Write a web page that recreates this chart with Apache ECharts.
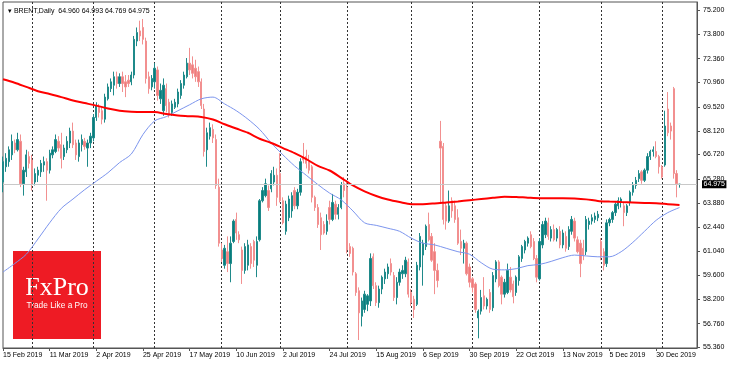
<!DOCTYPE html>
<html><head><meta charset="utf-8">
<script src="https://cdn.jsdelivr.net/npm/echarts@6/dist/echarts.min.js"></script>
<style>html,body{margin:0;padding:0;background:#fff}#c{width:730px;height:365px}</style>
</head><body><div id="c"></div>
<script>
const symbolTitle = 'BRENT,Daily';
const lastQuote = [64.960, 64.993, 64.769, 64.975];
const currentPrice = 64.975;
const yTickLabels = [55.36, 56.76, 58.2, 59.6, 61.04, 62.44, 63.88, 65.28, 66.72, 68.12, 69.52, 70.96, 72.36, 73.8, 75.2];
const xTickLabels = ['15 Feb 2019','11 Mar 2019','2 Apr 2019','25 Apr 2019','17 May 2019','10 Jun 2019','2 Jul 2019','24 Jul 2019','15 Aug 2019','6 Sep 2019','30 Sep 2019','22 Oct 2019','13 Nov 2019','5 Dec 2019','30 Dec 2019'];
const firstDay = '2019-02-15';
const holidays = ['2019-04-19','2019-12-25','2020-01-01'];

// [open, high, low, close]
const feb2019 = [[65.1,66.6,64.5,66.3],[66.0,66.8,65.7,66.5],[66.3,67.2,66.0,67.0],[66.7,67.9,66.4,67.5],[67.4,67.6,66.8,67.0],[67.0,68.0,66.9,67.6],[67.5,67.9,64.8,65.0],[65.0,66.0,64.3,65.8],[65.7,67.0,65.4,66.7],[66.6,66.9,65.9,66.2]];
const mar2019 = [[66.4,66.7,64.6,65.0],[65.1,65.9,64.9,65.6],[65.5,66.0,65.1,65.8],[65.7,66.4,65.4,66.2],[66.1,66.6,65.7,66.3],[66.3,66.5,64.0,65.8],[65.8,67.0,65.6,66.8],[66.7,67.2,66.5,67.0],[66.9,67.9,66.8,67.6],[67.5,67.8,66.9,67.1],[67.3,68.0,65.9,66.5],[66.6,67.3,66.4,67.1],[67.0,67.8,66.8,67.5],[67.4,68.3,67.1,68.1],[68.1,68.6,67.1,67.3],[67.4,67.6,66.4,66.7],[66.6,67.6,66.3,67.4],[67.3,67.9,66.9,67.6],[67.5,67.7,67.0,67.2],[67.1,67.6,66.0,67.4],[67.4,68.0,67.1,67.8]];
const apr2019 = [[67.7,69.1,67.5,68.9],[68.9,69.8,68.7,69.6],[69.5,69.7,68.9,69.2],[69.3,69.5,68.5,68.8],[68.8,70.3,68.6,70.1],[70.0,70.9,69.9,70.7],[70.6,71.2,70.4,71.0],[70.8,71.6,70.2,71.3],[71.3,71.6,70.6,70.9],[70.9,71.5,70.7,71.3],[71.3,71.6,70.4,70.9],[71.0,71.4,70.1,70.7],[71.1,71.4,70.7,70.9],[71.0,71.6,70.8,71.4],[71.4,73.7,71.2,73.5],[73.4,74.2,73.1,73.9],[74.0,74.6,73.4,73.7],[74.2,74.7,73.2,73.5],[73.4,73.6,70.9,71.2],[71.3,71.6,70.3,70.6],[70.7,71.4,70.5,71.2]];
const may2019 = [[71.0,72.1,70.6,71.8],[71.7,71.9,69.9,70.2],[70.0,70.9,69.7,70.5],[69.3,71.2,69.0,70.8],[70.6,70.9,69.2,69.6],[69.8,70.0,68.9,69.1],[69.2,69.9,69.0,69.7],[69.5,70.0,69.4,69.8],[69.7,70.6,69.5,70.4],[70.2,71.1,70.0,70.9],[70.8,71.6,70.6,71.4],[71.3,72.4,71.2,72.1],[72.1,73.0,71.4,71.7],[72.0,72.5,71.2,71.5],[71.8,72.3,71.0,71.3],[71.6,71.9,70.7,71.0],[71.0,71.2,69.4,69.6],[69.4,69.7,66.6,66.9],[67.0,68.3,66.0,68.0],[67.8,68.6,67.6,68.3],[68.2,68.5,67.4,67.7],[67.6,67.9,64.7,64.9],[64.8,65.3,61.3,61.5]];
const jun2019 = [[61.1,61.5,60.4,60.6],[60.2,61.4,60.0,61.2],[61.0,61.9,59.8,60.3],[60.3,61.9,59.2,61.5],[61.6,62.9,61.5,62.8],[62.9,63.3,61.7,62.1],[62.0,62.2,61.5,61.7],[61.1,61.3,59.1,59.9],[59.9,61.5,59.7,61.3],[60.2,61.7,59.9,61.4],[61.3,61.5,60.0,60.3],[61.6,61.7,60.1,60.5],[60.2,61.9,59.5,61.6],[61.7,64.1,61.6,64.0],[64.0,64.8,63.9,64.6],[64.3,65.3,64.2,65.0],[64.6,64.9,63.4,63.6],[64.7,65.8,64.5,65.6],[65.1,66.0,64.9,65.5],[65.5,65.9,63.7,64.2]];
const jul2019 = [[65.6,66.8,63.9,64.0],[64.0,64.2,62.6,62.7],[62.2,64.0,62.0,63.8],[63.0,64.3,62.8,64.1],[63.4,64.5,63.0,64.3],[64.6,64.8,63.5,63.7],[63.7,64.7,63.5,64.5],[64.5,66.5,64.3,66.3],[66.6,67.4,66.2,66.4],[66.6,67.0,65.9,66.2],[66.3,66.7,65.6,65.8],[66.0,66.1,63.9,64.2],[64.2,64.3,63.4,63.6],[63.6,63.8,62.4,62.6],[63.0,63.3,61.1,62.0],[62.6,62.8,62.0,62.1],[62.2,63.2,62.0,62.8],[63.6,64.0,62.6,62.9],[62.9,64.4,62.8,63.9],[63.8,64.0,62.9,63.2],[63.2,63.8,62.9,63.6],[63.6,65.1,63.5,64.9],[65.0,65.4,64.2,64.6]];
const aug2019 = [[64.8,65.2,60.9,61.1],[61.3,61.5,60.7,60.9],[61.2,61.3,59.6,59.8],[59.7,59.8,58.4,58.6],[58.7,58.9,55.8,57.4],[57.2,58.3,56.6,58.1],[57.6,58.7,57.4,58.5],[57.9,58.5,57.5,58.4],[58.1,60.9,57.8,60.6],[60.7,60.9,58.8,59.0],[59.0,59.2,57.8,58.0],[58.0,59.0,57.7,58.8],[58.8,59.6,58.5,59.5],[59.4,60.0,59.1,59.8],[59.7,60.3,59.4,60.1],[60.3,60.6,59.6,59.8],[59.6,59.8,58.1,58.3],[58.3,59.5,57.9,59.2],[59.2,60.0,59.0,59.8],[59.7,60.2,59.4,59.9],[59.7,60.7,59.5,60.5],[60.4,60.6,58.3,58.5]];
const sep2019 = [[58.6,58.8,57.8,58.0],[58.2,58.4,57.1,57.6],[57.9,60.4,57.8,60.2],[60.1,62.1,59.9,61.9],[60.8,61.7,59.0,61.5],[61.3,62.6,61.1,62.5],[62.6,63.3,61.6,61.7],[61.9,62.1,60.4,60.5],[61.0,61.5,58.5,59.9],[59.9,60.3,58.9,59.3],[67.5,68.7,63.85,67.1],[67.2,67.4,62.6,62.9],[63.7,63.9,62.3,62.8],[62.8,64.6,62.7,63.7],[64.0,64.2,63.0,63.4],[63.7,64.0,62.7,62.9],[63.0,63.5,61.4,61.5],[61.6,62.3,60.8,61.2],[61.2,61.7,60.3,61.5],[61.5,61.6,59.6,59.7],[60.1,60.3,58.9,59.2]];
const oct2019 = [[59.4,59.5,58.6,58.9],[59.1,59.2,57.4,57.6],[57.1,57.6,55.9,57.5],[57.5,58.75,57.3,58.3],[58.4,59.5,57.6,57.8],[57.8,58.3,57.6,58.2],[58.6,58.8,57.4,57.6],[57.7,59.8,57.5,59.6],[59.4,60.5,59.2,60.4],[60.4,60.5,58.9,59.0],[59.5,59.6,57.9,58.5],[58.5,59.4,58.3,59.2],[58.6,60.3,58.5,59.9],[59.5,60.1,58.6,58.75],[59.1,59.3,57.96,58.35],[58.6,59.6,58.4,59.5],[59.3,60.8,59.0,60.7],[60.6,61.4,60.4,61.3],[61.1,61.7,60.9,61.6],[61.5,61.9,61.3,61.8],[62.0,62.2,61.2,61.3],[61.6,61.8,60.5,60.6],[60.6,60.8,59.2,59.5]];
const nov2019 = [[59.4,61.8,59.3,61.6],[61.4,62.8,61.2,62.6],[62.0,63.0,61.8,62.8],[62.7,63.0,61.7,61.9],[61.8,62.5,61.6,62.3],[62.3,62.6,61.6,61.7],[61.8,62.4,61.6,62.3],[62.2,62.5,61.2,61.4],[61.4,62.3,61.2,62.1],[61.9,62.2,61.0,61.2],[61.3,62.5,61.1,62.3],[62.2,63.1,62.0,62.9],[62.8,63.0,61.6,61.8],[61.7,61.9,60.9,61.0],[61.5,61.7,59.5,60.3],[61.2,61.7,60.5,60.8],[61.0,63.1,60.8,62.9],[62.6,63.0,62.3,62.8],[62.8,63.2,62.6,63.0],[62.9,63.3,62.7,63.1],[63.0,63.4,62.8,63.2]];
const dec2019 = [[61.6,61.8,60.5,60.7],[61.0,61.2,59.9,60.2],[60.3,62.9,60.1,62.7],[62.7,63.0,62.5,62.9],[62.9,63.4,62.7,63.3],[63.3,63.9,63.1,63.8],[63.7,64.2,63.5,64.0],[63.9,64.2,63.6,64.1],[63.7,63.9,62.5,63.3],[63.3,63.8,63.1,63.7],[63.9,64.6,63.7,64.5],[64.5,65.1,64.3,64.9],[64.9,65.4,64.7,65.2],[65.3,65.8,65.1,65.6],[65.7,65.8,65.0,65.2],[65.2,65.9,65.1,65.8],[65.8,66.8,65.6,66.6],[66.6,67.0,66.4,66.9],[66.9,67.2,66.6,67.0],[66.9,67.5,66.5,66.6],[66.6,66.7,65.6,66.0]];
const jan2020 = [[66.0,66.1,65.3,65.4],[66.1,69.3,66.0,68.4],[69.4,70.4,67.8,68.0],[68.4,68.6,67.6,68.1],[70.6,70.7,65.3,65.6],[65.6,65.8,64.2,65.0],[64.96,64.993,64.769,64.975]];

// moving averages: [bar index, value]
const maRed = [[0,71.15],[4,70.95],[8,70.7],[12,70.45],[16,70.28],[20,70.1],[24,69.9],[28,69.75],[32,69.6],[36,69.43],[40,69.3],[44,69.24],[48,69.22],[52,69.22],[56,69.1],[60,69.02],[64,68.98],[68,68.93],[72,68.78],[76,68.5],[80,68.25],[84,68.0],[88,67.65],[92,67.4],[96,67.1],[100,66.8],[104,66.45],[108,66.05],[112,65.78],[116,65.35],[120,64.9],[124,64.55],[128,64.28],[132,64.07],[136,63.92],[140,63.8],[144,63.8],[148,63.84],[152,63.9],[156,63.96],[160,64.03],[164,64.1],[168,64.17],[172,64.24],[176,64.22],[180,64.18],[184,64.15],[188,64.15],[192,64.15],[196,64.13],[200,64.08],[204,63.99],[208,63.95],[212,63.92],[216,63.9],[220,63.87],[224,63.85],[228,63.8],[232,63.75]];
const maBlue = [[0,59.8],[4,60.3],[8,60.85],[12,61.75],[16,62.7],[20,63.55],[24,64.1],[28,64.65],[32,65.15],[36,65.65],[40,66.25],[44,66.75],[48,67.9],[52,68.7],[56,68.95],[60,69.3],[64,69.65],[68,70.0],[72,70.1],[76,69.7],[80,69.3],[84,68.8],[88,68.2],[92,67.4],[96,66.7],[100,66.05],[104,65.5],[108,64.95],[112,64.45],[116,64.05],[120,63.4],[124,62.7],[128,62.55],[132,62.38],[136,62.2],[140,61.8],[144,61.5],[148,61.4],[152,61.2],[156,61.0],[160,60.85],[164,60.35],[168,59.97],[172,59.93],[176,60.0],[180,60.18],[184,60.25],[188,60.43],[192,60.65],[196,60.8],[200,60.75],[204,60.7],[208,60.7],[212,61.0],[216,61.55],[220,62.2],[224,62.85],[228,63.3],[232,63.6]];

const candlesOHLC = [].concat(feb2019, mar2019, apr2019, may2019, jun2019, jul2019, aug2019, sep2019, oct2019, nov2019, dec2019, jan2020);
const nBars = candlesOHLC.length;
const padBars = 6;

// trading-day categories
const categories = [];
(function(){
  let d = new Date(firstDay + 'T00:00:00Z');
  while (categories.length < nBars) {
    const dow = d.getUTCDay();
    const s = d.toISOString().slice(0,10);
    if (dow !== 0 && dow !== 6 && holidays.indexOf(s) < 0) categories.push(s);
    d = new Date(d.getTime() + 86400000);
  }
  for (let i = 1; i <= padBars; i++) categories.push('pad' + i);
})();

const candleData = candlesOHLC.map(r => [r[0], r[3], r[2], r[1]]);
function sparse(points){
  const a = new Array(nBars).fill(null);
  points.forEach(p => { a[p[0]] = p[1]; });
  return a;
}
const isMonthStart = (i) => i > 0 && i < nBars && categories[i].slice(0,7) !== categories[i-1].slice(0,7);
const isLabelIdx = (i) => i % 16 === 0 && (i / 16) < xTickLabels.length;

const font = '"Liberation Sans", Arial, sans-serif';
const chart = echarts.init(document.getElementById('c'), null, {renderer: 'canvas'});
chart.setOption({
  animation: false,
  backgroundColor: '#ffffff',
  title: {
    text: '\u25BE ' + symbolTitle + '  ' + lastQuote.map(v => v.toFixed(3)).join(' '),
    left: 3, top: 3,
    textStyle: {fontFamily: font, fontSize: 7, fontWeight: 'normal', color: '#000'}
  },
  grid: {left: 2, right: 33, top: 2, bottom: 17, show: true, borderColor: '#555', borderWidth: 1, backgroundColor: 'transparent'},
  xAxis: {
    type: 'category', data: categories, boundaryGap: false,
    axisLine: {show: true, lineStyle: {color: '#555'}},
    axisTick: {show: true, interval: (i) => isLabelIdx(i), length: 3, lineStyle: {color: '#555'}},
    axisLabel: {interval: (i) => isLabelIdx(i), formatter: (v, i) => xTickLabels[i / 16] || '', align: 'left', margin: 4, fontFamily: font, fontSize: 7, color: '#000'},
    splitLine: {show: true, interval: (i) => isMonthStart(i), lineStyle: {color: '#333', type: [2, 2], width: 1}}
  },
  yAxis: {
    type: 'value', position: 'right', min: 55.33, max: 75.70, scale: true,
    axisLine: {show: true, lineStyle: {color: '#555'}},
    axisTick: {show: true, length: 3, customValues: yTickLabels, lineStyle: {color: '#555'}},
    axisLabel: {customValues: yTickLabels, formatter: (v) => v.toFixed(3), margin: 6, fontFamily: font, fontSize: 7, color: '#000'},
    splitLine: {show: false}
  },
  graphic: [{
    type: 'group', z: 100, left: 13, top: 251,
    children: [
      {type: 'rect', shape: {x: 0, y: 0, width: 88, height: 88}, style: {fill: '#ee1b24'}},
      {type: 'text', x: 44, y: 37.5, style: {text: 'FxPro', fill: '#fff', font: '26px "Liberation Serif", "Times New Roman", serif', align: 'center', verticalAlign: 'middle'}},
      {type: 'text', x: 44, y: 54.5, style: {text: 'Trade Like a Pro', fill: '#fff', font: '8.3px "Liberation Sans", Arial, sans-serif', align: 'center', verticalAlign: 'middle'}}
    ]
  }],
  series: [
    {
      type: 'candlestick', data: candleData, barWidth: 1.8,
      itemStyle: {color: '#077d7d', color0: '#f07c7c', borderColor: '#1f8a8a', borderColor0: '#f29090', borderWidth: 1},
      markLine: {
        silent: true, symbol: 'none', animation: false,
        lineStyle: {color: '#c8c8c8', type: 'solid', width: 1},
        label: {show: true, position: 'end', distance: 5, formatter: currentPrice.toFixed(3), backgroundColor: '#000', color: '#fff', fontFamily: font, fontSize: 7, padding: [1, 1.5, 0, 1.5]},
        data: [{yAxis: currentPrice}]
      },
      z: 2
    },
    {type: 'line', data: sparse(maBlue), connectNulls: true, smooth: 0.3, showSymbol: false, lineStyle: {color: '#7c95ee', width: 1}, z: 3},
    {type: 'line', data: sparse(maRed), connectNulls: true, smooth: 0.3, showSymbol: false, lineStyle: {color: '#ff0000', width: 2}, z: 4}
  ]
});
</script>
</body></html>
